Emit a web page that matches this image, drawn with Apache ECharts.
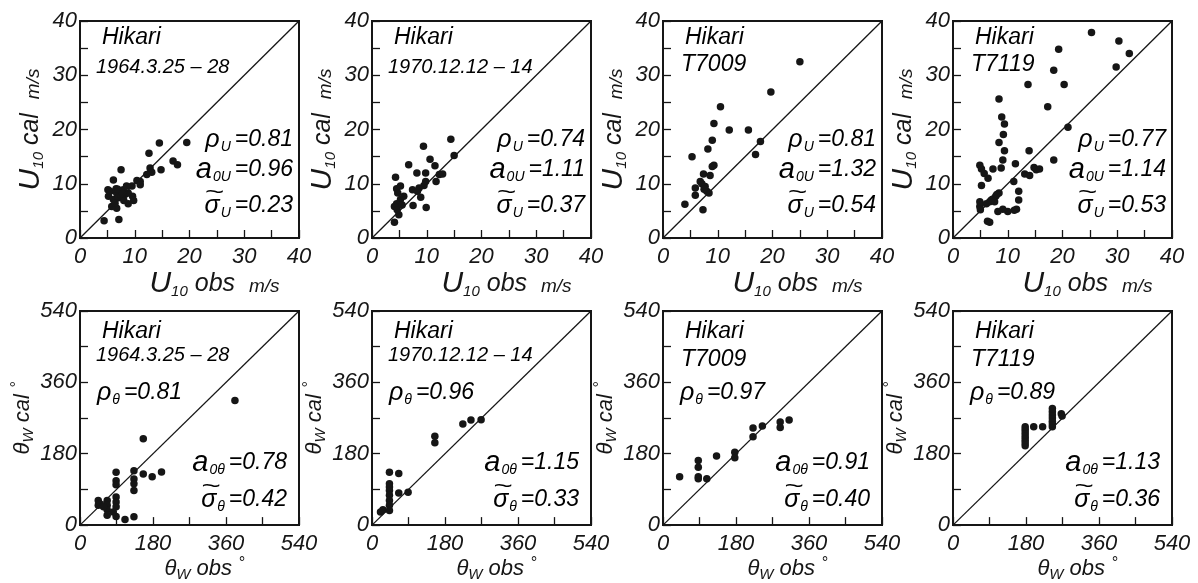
<!DOCTYPE html>
<html>
<head>
<meta charset="utf-8">
<title>Hikari U10 / theta scatter</title>
<script src="https://cdn.jsdelivr.net/npm/echarts@6/dist/echarts.min.js"></script>
<style>
  html, body { margin: 0; padding: 0; background: #fff; }
  #chart { width: 1198px; height: 583px; }
</style>
</head>
<body>
<div id="chart"></div>
<script>
// observed vs calculated wind speed U10 (m/s)
const u1964 = [[4.4,3.2],[7.1,3.4],[5.1,8.9],[6.1,10.7],[7.5,12.6],[10.4,10.6],[9.5,9.6],[11.0,10.4],[11.0,9.8],
  [12.6,15.6],[14.5,17.5],[19.5,17.6],[12.8,12.9],[13.1,12.1],[14.8,12.6],[17.0,14.2],[17.8,13.5],[12.2,11.7],
  [9.6,7.7],[9.8,6.9],[8.8,6.3],[6.7,5.5],[5.8,5.8],[5.2,7.7],[6.1,7.1],[6.7,8.3],[7.3,8.6],[7.9,8.9],[7.0,7.4],
  [6.4,6.4],[7.6,7.7],[8.2,8.0],[8.8,8.3],[5.5,8.6],[6.6,9.1],[8.0,6.9],[6.9,9.0],[7.8,8.2],[8.5,9.6]]
const u1970 = [[4.1,2.9],[4.3,11.2],[4.5,9.1],[5.2,9.6],[6.7,13.5],[8.2,12.0],[9.4,16.9],[9.8,12.0],[14.4,18.2],
  [15.0,15.2],[10.6,14.5],[11.5,13.3],[9.8,10.4],[9.5,9.7],[8.6,9.2],[7.4,8.9],[8.9,7.5],[7.5,6.0],[9.9,5.6],
  [11.7,10.4],[12.3,11.7],[12.9,11.8],[4.7,8.3],[5.2,7.1],[4.5,6.3],[4.1,5.8],[4.9,4.3],[4.6,5.2],[5.5,6.1],
  [5.8,7.7],[8.3,8.6]]
const u7009 = [[25.0,32.5],[19.7,26.9],[10.5,24.2],[9.3,21.1],[12.1,19.9],[15.6,19.9],[9.0,18.0],[8.2,16.4],
  [5.3,15.0],[17.8,17.8],[16.9,15.4],[9.3,13.4],[9.0,13.2],[7.4,11.8],[8.6,11.5],[6.8,10.4],[7.1,10.0],
  [5.9,9.2],[5.9,7.9],[4.0,6.2],[7.3,5.2],[7.7,9.5],[8.0,8.6],[8.4,8.3],[7.5,9.0]]
const u7119 = [[25.3,37.9],[30.3,36.3],[32.2,34.0],[29.8,31.5],[19.3,34.8],[18.4,30.9],[20.3,28.3],[13.7,28.3],
  [17.3,24.2],[21.0,20.4],[18.4,14.4],[8.4,25.6],[8.9,22.3],[9.4,21.0],[9.2,19.1],[8.4,17.6],[9.4,16.1],
  [9.1,14.4],[8.8,12.9],[7.3,12.7],[4.9,13.4],[5.2,12.7],[5.7,11.9],[6.4,11.0],[5.2,9.7],[11.4,13.7],
  [13.9,16.1],[13.1,11.8],[14.0,11.5],[14.8,13.0],[15.2,12.6],[15.8,12.7],[11.1,10.4],[12.0,8.6],[12.0,7.0],
  [11.6,5.3],[11.2,5.1],[10.0,4.9],[9.1,5.3],[8.2,4.9],[4.9,5.8],[4.9,6.7],[5.0,5.2],[6.1,6.3],[6.7,6.7],
  [7.3,7.2],[7.8,7.7],[8.4,8.3],[7.6,6.7],[6.3,3.1],[6.7,2.9],[7.0,7.0],[8.0,8.0]]

// observed vs calculated wind direction theta_w (deg)
const t1964 = [[382,314],[156,218],[156,129],[178,122],[201,134],[133,137],[133,116],[133,104],[133,87],
  [111,14],[133,21],[89,133],[89,112],[89,102],[89,71],[89,58],[89,46],[89,22],[67,62],[67,50],[67,39],
  [67,25],[45,62],[45,50],[49,54],[82,33],[58,46]]
const t1970 = [[21,33],[27,39],[43,133],[66,130],[66,81],[89,83],[43,96],[43,87],[43,75],[43,62],[43,50],
  [43,37],[43,104],[155,224],[155,208],[224,255],[244,265],[269,266]]
const t7009 = [[41,122],[87,163],[87,146],[87,122],[87,117],[108,117],[132,174],[177,184],[177,170],
  [222,245],[222,223],[245,250],[289,260],[289,246],[311,265]]
const t7119 = [[178,200],[178,207],[178,214],[178,221],[178,228],[178,235],[178,242],[178,248],[199,248],
  [221,248],[245,248],[245,255],[245,262],[245,270],[245,278],[245,286],[245,294],[267,281],[269,275]]

const cases = ['1964.3.25 – 28', '1970.12.12 – 14', 'T7009', 'T7119']
const rhoU = ['0.81', '0.74', '0.81', '0.77']
const a0U = ['0.96', '1.11', '1.32', '1.14']
const sigU = ['0.23', '0.37', '0.54', '0.53']
const rhoT = ['0.81', '0.96', '0.97', '0.89']
const a0T = ['0.78', '1.15', '0.91', '1.13']
const sigT = ['0.42', '0.33', '0.40', '0.36']

const uRange = [0, 40]
const tRange = [0, 540]

const FONT = '"Liberation Sans", Arial, sans-serif'
const INK = '#161616'
const colLeft = [80, 372, 663, 953]
const rowTop = [21, 311]
const gw = 219
const gh = 217

const chart = echarts.init(document.getElementById('chart'))

// text width helper (for placing the tilde over sigma)
const mctx = document.createElement('canvas').getContext('2d')
function tw(text, size) {
  mctx.font = 'italic ' + size + 'px ' + FONT
  return mctx.measureText(text).width
}

function it(size, extra) {
  return Object.assign({ fontSize: size, fontStyle: 'italic', fontFamily: FONT, color: INK }, extra || {})
}

const nameRich = {
  u: it(30, { lineHeight: 30 }),
  s: it(15, { lineHeight: 15, verticalAlign: 'bottom' }),
  c: it(25, { lineHeight: 30 }),
  m: it(19, { lineHeight: 30, padding: [5, 0, 0, 0] }),
  t: it(22, { lineHeight: 26 }),
  w: it(15, { lineHeight: 18, verticalAlign: 'bottom' }),
  d: it(16, { lineHeight: 26, verticalAlign: 'top' })
}

const SUB = 14
const statRich = {
  g: it(25, { lineHeight: 28 }),
  a: it(29, { lineHeight: 28 }),
  s: it(SUB, { lineHeight: 14, verticalAlign: 'bottom', padding: [0, 4, 0, 1] }),
  e: it(23, { lineHeight: 28 })
}

const grids = []
const xAxes = []
const yAxes = []
const series = []
const graphics = []

// sigma line: right aligned at rx, plus a wide tilde over the sigma
function sigmaLine(rx, y, sub, val) {
  graphics.push({ type: 'text', x: rx, y: y,
    style: { text: '{g|σ}{s|' + sub + '}{e|=' + val + '}', rich: statRich, textAlign: 'right', textVerticalAlign: 'middle' } })
  const w = tw('σ', 25) + tw(sub, SUB) + 5 + tw('=' + val, 23)
  const sx = rx - w + tw('σ', 25) / 2 + 2
  graphics.push({ type: 'text', x: sx, y: y - 13, scaleX: 1.5,
    style: Object.assign(it(22), { text: '~', textAlign: 'center', textVerticalAlign: 'middle' }) })
}

function addPanel(i, row, col, data, range, step) {
  const left = colLeft[col]
  const top = rowTop[row]
  grids.push({ left: left, top: top, width: gw, height: gh, show: true, borderColor: INK, borderWidth: 2 })
  const label = {
    fontSize: 22, fontStyle: 'italic', fontFamily: FONT, color: INK,
    formatter: v => (v % (step * 2) === 0 ? String(v) : '')
  }
  const base = {
    gridIndex: i, type: 'value', min: range[0], max: range[1], interval: step,
    axisLine: { show: true, lineStyle: { color: INK, width: 2 } },
    axisTick: { show: true, inside: true, length: 8, lineStyle: { color: INK, width: 1.3 } },
    splitLine: { show: false },
    nameLocation: 'middle'
  }
  const isU = row === 0
  xAxes.push(Object.assign({}, base, {
    axisLabel: Object.assign({ margin: 8 }, label),
    name: isU ? '{u|U}{s|10}{c| obs  }{m|m/s}' : '{t|θ}{w|W}{t| obs }{d|°}',
    nameGap: isU ? 29 : 28,
    nameTextStyle: { rich: nameRich, padding: [0, 0, 0, isU ? 50 : 30] }
  }))
  yAxes.push(Object.assign({}, base, {
    axisLabel: Object.assign({ margin: 3 }, label),
    name: isU ? '{u|U}{s|10}{c| cal  }{m|m/s}' : '{t|θ}{w|W}{t| cal }{d|°}',
    nameGap: isU ? 26 : 44,
    nameTextStyle: { rich: nameRich, padding: [0, 0, isU ? 8 : 0, 0] }
  }))
  series.push({
    type: 'scatter', xAxisIndex: i, yAxisIndex: i, data: data,
    symbolSize: 7.5, itemStyle: { color: INK, opacity: 1 }, silent: true
  })
  series.push({
    type: 'line', xAxisIndex: i, yAxisIndex: i,
    data: [[range[0], range[0]], [range[1], range[1]]],
    showSymbol: false, lineStyle: { color: INK, width: 1.3 }, silent: true
  })

  // labels inside the panel
  const isCode = cases[col].charAt(0) === 'T'
  graphics.push({ type: 'text', x: left + 22, y: top + (isU ? 17 : 21),
    style: Object.assign(it(23), { text: 'Hikari', textVerticalAlign: 'middle' }) })
  graphics.push({ type: 'text', x: left + (isCode ? 18 : 16), y: top + (isCode ? (isU ? 44 : 49) : (isU ? 46 : 44)),
    style: Object.assign(isCode ? it(23) : it(20), { text: cases[col], textVerticalAlign: 'middle' }) })

  if (isU) {
    const rx = left + gw - 6
    graphics.push({ type: 'text', x: rx, y: top + 119,
      style: { text: '{g|ρ}{s|U}{e|=' + rhoU[col] + '}', rich: statRich, textAlign: 'right', textVerticalAlign: 'middle' } })
    graphics.push({ type: 'text', x: rx, y: top + 149,
      style: { text: '{a|a}{s|0U}{e|=' + a0U[col] + '}', rich: statRich, textAlign: 'right', textVerticalAlign: 'middle' } })
    sigmaLine(rx, top + 185, 'U', sigU[col])
  } else {
    graphics.push({ type: 'text', x: left + 17, y: top + 82,
      style: { text: '{g|ρ}{s|θ}{e|=' + rhoT[col] + '}', rich: statRich, textVerticalAlign: 'middle' } })
    const rx = left + gw - 12
    graphics.push({ type: 'text', x: rx, y: top + 152,
      style: { text: '{a|a}{s|0θ}{e|=' + a0T[col] + '}', rich: statRich, textAlign: 'right', textVerticalAlign: 'middle' } })
    sigmaLine(rx, top + 189, 'θ', sigT[col])
  }
}

const uSets = [u1964, u1970, u7009, u7119]
const tSets = [t1964, t1970, t7009, t7119]
uSets.forEach((d, c) => addPanel(c, 0, c, d, uRange, 5))
tSets.forEach((d, c) => addPanel(4 + c, 1, c, d, tRange, 90))

const option = {
  backgroundColor: '#fff',
  animation: false,
  grid: grids,
  xAxis: xAxes,
  yAxis: yAxes,
  series: series,
  graphic: graphics
}
chart.setOption(option)
</script>
</body>
</html>
